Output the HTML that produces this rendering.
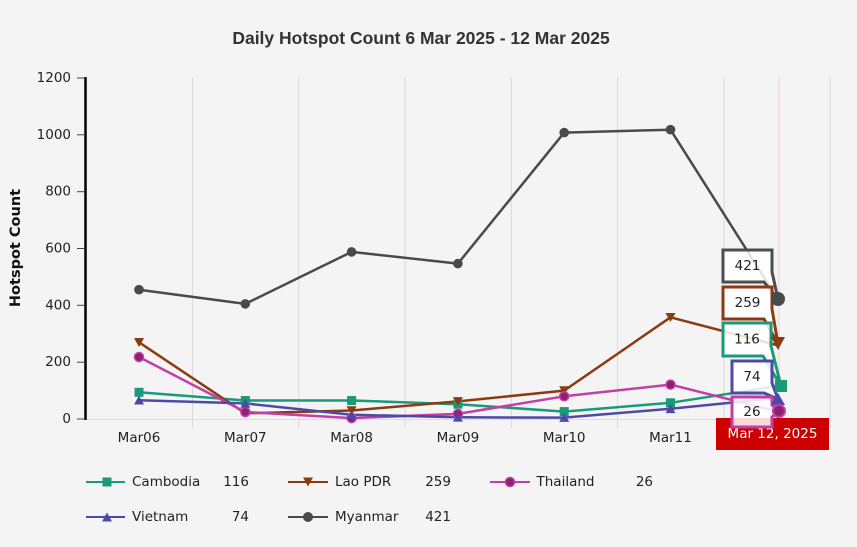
<!DOCTYPE html>
<html><head><meta charset="utf-8"><style>
html,body{margin:0;padding:0;background:#f4f4f4;}
svg{display:block;}
.t{font-family:"DejaVu Sans","Liberation Sans",sans-serif;font-size:13.5px;fill:#222;}
</style></head><body>
<svg width="857" height="547" viewBox="0 0 857 547" xmlns="http://www.w3.org/2000/svg">
<rect width="857" height="547" fill="#f4f4f4"/>
<text x="421" y="44" text-anchor="middle" font-family="'Liberation Sans',Arial,sans-serif" font-weight="bold" font-size="17.5" fill="#333">Daily Hotspot Count 6 Mar 2025 - 12 Mar 2025</text>
<text transform="translate(16,248) rotate(-90)" text-anchor="middle" dominant-baseline="central" font-family="'DejaVu Sans',sans-serif" font-weight="bold" font-size="14.5" fill="#111">Hotspot Count</text>

<!-- grid -->
<g stroke="#d9d9d9" stroke-width="1">
<line x1="192.5" y1="77" x2="192.5" y2="428"/>
<line x1="298.8" y1="77" x2="298.8" y2="428"/>
<line x1="405" y1="77" x2="405" y2="428"/>
<line x1="511.3" y1="77" x2="511.3" y2="428"/>
<line x1="617.6" y1="77" x2="617.6" y2="428"/>
<line x1="724" y1="77" x2="724" y2="428"/>
<line x1="830" y1="77" x2="830" y2="428"/>
</g>
<line x1="779" y1="77" x2="779" y2="419" stroke="#f2dcdc" stroke-width="1.5"/>
<line x1="86" y1="419.5" x2="830" y2="419.5" stroke="#dcdcdc" stroke-width="1"/>
<line x1="85.5" y1="77" x2="85.5" y2="420" stroke="#000" stroke-width="2.5"/>
<g stroke="#444" stroke-width="1">
<line x1="77" y1="78" x2="85" y2="78"/>
<line x1="77" y1="134.8" x2="85" y2="134.8"/>
<line x1="77" y1="191.7" x2="85" y2="191.7"/>
<line x1="77" y1="248.5" x2="85" y2="248.5"/>
<line x1="77" y1="305.3" x2="85" y2="305.3"/>
<line x1="77" y1="362.2" x2="85" y2="362.2"/>
<line x1="77" y1="419" x2="85" y2="419"/>
</g>
<g>
<text class="t" x="71" y="78" text-anchor="end" dominant-baseline="central">1200</text>
<text class="t" x="71" y="134.8" text-anchor="end" dominant-baseline="central">1000</text>
<text class="t" x="71" y="191.7" text-anchor="end" dominant-baseline="central">800</text>
<text class="t" x="71" y="248.5" text-anchor="end" dominant-baseline="central">600</text>
<text class="t" x="71" y="305.3" text-anchor="end" dominant-baseline="central">400</text>
<text class="t" x="71" y="362.2" text-anchor="end" dominant-baseline="central">200</text>
<text class="t" x="71" y="419" text-anchor="end" dominant-baseline="central">0</text>
</g>
<text class="t" x="139" y="442" text-anchor="middle">Mar06</text>
<text class="t" x="245.3" y="442" text-anchor="middle">Mar07</text>
<text class="t" x="351.6" y="442" text-anchor="middle">Mar08</text>
<text class="t" x="457.9" y="442" text-anchor="middle">Mar09</text>
<text class="t" x="564.2" y="442" text-anchor="middle">Mar10</text>
<text class="t" x="670.5" y="442" text-anchor="middle">Mar11</text>

<!-- series -->
<g fill="none" stroke-width="2.5" stroke-linejoin="round">
<polyline stroke="#1a9a78" points="139,392.3 245.3,400.5 351.6,400.5 457.9,404.2 564.2,411.6 670.5,402.8 778,386"/>
<polyline stroke="#8b3a12" points="139,342.3 245.3,413.3 351.6,410.5 457.9,401.4 564.2,390.6 670.5,317.3 778,345.4"/>
<polyline stroke="#c23fa5" points="139,357 245.3,412 351.6,418.1 457.9,413.9 564.2,396.3 670.5,384.6 778,411.6"/>
<polyline stroke="#4c4aa6" points="139,400.2 245.3,403.4 351.6,414.7 457.9,417.3 564.2,417.6 670.5,408.8 778,398"/>
<polyline stroke="#4a4a4a" points="139,289.7 245.3,303.9 351.6,251.9 457.9,263.6 564.2,132.6 670.5,129.7 778,299.4"/>
</g>
<!-- markers -->
<g fill="#1a9a78">
<rect x="134.5" y="387.8" width="9" height="9"/><rect x="240.8" y="396" width="9" height="9"/><rect x="347.1" y="396" width="9" height="9"/><rect x="453.4" y="399.7" width="9" height="9"/><rect x="559.7" y="407.1" width="9" height="9"/><rect x="666" y="398.3" width="9" height="9"/>
</g>
<g fill="#8b3a12">
<path d="M134,338 h10 l-5,9z"/><path d="M240.3,409 h10 l-5,9z"/><path d="M346.6,406.2 h10 l-5,9z"/><path d="M452.9,397.1 h10 l-5,9z"/><path d="M559.2,386.3 h10 l-5,9z"/><path d="M665.5,313 h10 l-5,9z"/>
</g>
<g fill="#8e1f73" stroke="#c23fa5" stroke-width="1.5">
<circle cx="139" cy="357" r="4.5"/><circle cx="245.3" cy="412" r="4.5"/><circle cx="351.6" cy="418.1" r="4.5"/><circle cx="457.9" cy="413.9" r="4.5"/><circle cx="564.2" cy="396.3" r="4.5"/><circle cx="670.5" cy="384.6" r="4.5"/>
</g>
<g fill="#4c4aa6">
<path d="M134,404.5 h10 l-5,-9z"/><path d="M240.3,407.7 h10 l-5,-9z"/><path d="M346.6,419 h10 l-5,-9z"/><path d="M452.9,421.6 h10 l-5,-9z"/><path d="M559.2,421.9 h10 l-5,-9z"/><path d="M665.5,413.1 h10 l-5,-9z"/>
</g>
<g fill="#4a4a4a">
<circle cx="139" cy="289.7" r="4.8"/><circle cx="245.3" cy="303.9" r="4.8"/><circle cx="351.6" cy="251.9" r="4.8"/><circle cx="457.9" cy="263.6" r="4.8"/><circle cx="564.2" cy="132.6" r="4.8"/><circle cx="670.5" cy="129.7" r="4.8"/>
</g>

<!-- date label -->
<rect x="716" y="418" width="113" height="32" fill="#cc0000"/>
<text x="772.5" y="434" text-anchor="middle" dominant-baseline="central" font-family="'DejaVu Sans',sans-serif" font-size="13.5" fill="#fff">Mar 12, 2025</text>

<!-- tooltips -->
<g fill="#ffffff" fill-opacity="0.85" stroke-width="3" stroke-linejoin="miter">
<path d="M723,250 H772 V272 L778,299 L764,282 H723 Z" stroke="#4d4d4d"/>
<path d="M723,287 H772 V309 L778,344 L764,319 H723 Z" stroke="#8b3a12"/>
<path d="M723,323 H771 V346 L781,386 L763,356 H723 Z" stroke="#1a9a78"/>
<path d="M732,361 H772 V383 L778,399 L764,393 H732 Z" stroke="#4c4aa6"/>
<path d="M732,397 H772 V405 L779,411 L772,417 V427 H732 Z" stroke="#c040a0"/>
</g>
<g font-family="'DejaVu Sans',sans-serif" font-size="13.5" fill="#222" text-anchor="middle" dominant-baseline="central">
<text x="747.5" y="266">421</text>
<text x="747.5" y="303">259</text>
<text x="747" y="339.5">116</text>
<text x="752" y="377">74</text>
<text x="752" y="412">26</text>
</g>
<!-- highlighted markers -->
<circle cx="778" cy="299" r="7" fill="#4a4a4a"/>
<path d="M771,337 h14 l-7,13z" fill="#8b3a12"/>
<rect x="775" y="380" width="12" height="12" fill="#1a9a78"/>
<path d="M771,405 h14 l-7,-12z" fill="#4c4aa6"/>
<circle cx="779" cy="411" r="6" fill="#8e1f73" stroke="#c23fa5" stroke-width="2"/>

<!-- legend -->
<g stroke-width="2">
<line x1="86" y1="482" x2="125" y2="482" stroke="#1a9a78"/>
<line x1="288" y1="482" x2="328" y2="482" stroke="#8b3a12"/>
<line x1="490" y1="482" x2="530" y2="482" stroke="#c23fa5"/>
<line x1="86" y1="517" x2="125" y2="517" stroke="#4c4aa6"/>
<line x1="288" y1="517" x2="328" y2="517" stroke="#4a4a4a"/>
</g>
<rect x="102.5" y="477.5" width="9" height="9" fill="#1a9a78"/>
<path d="M303,477.5 h10 l-5,9z" fill="#8b3a12"/>
<circle cx="510" cy="482" r="4.5" fill="#8e1f73" stroke="#c23fa5" stroke-width="1.5"/>
<path d="M102,521.5 h10 l-5,-9z" fill="#4c4aa6"/>
<circle cx="308" cy="517" r="5" fill="#4a4a4a"/>
<g font-family="'DejaVu Sans',sans-serif" font-size="13.5" fill="#222" dominant-baseline="central">
<text x="132" y="482">Cambodia</text>
<text x="249" y="482" text-anchor="end">116</text>
<text x="335" y="482">Lao PDR</text>
<text x="451" y="482" text-anchor="end">259</text>
<text x="536.5" y="482">Thailand</text>
<text x="653" y="482" text-anchor="end">26</text>
<text x="132" y="517">Vietnam</text>
<text x="249" y="517" text-anchor="end">74</text>
<text x="335" y="517">Myanmar</text>
<text x="451" y="517" text-anchor="end">421</text>
</g>
</svg>
</body></html>
